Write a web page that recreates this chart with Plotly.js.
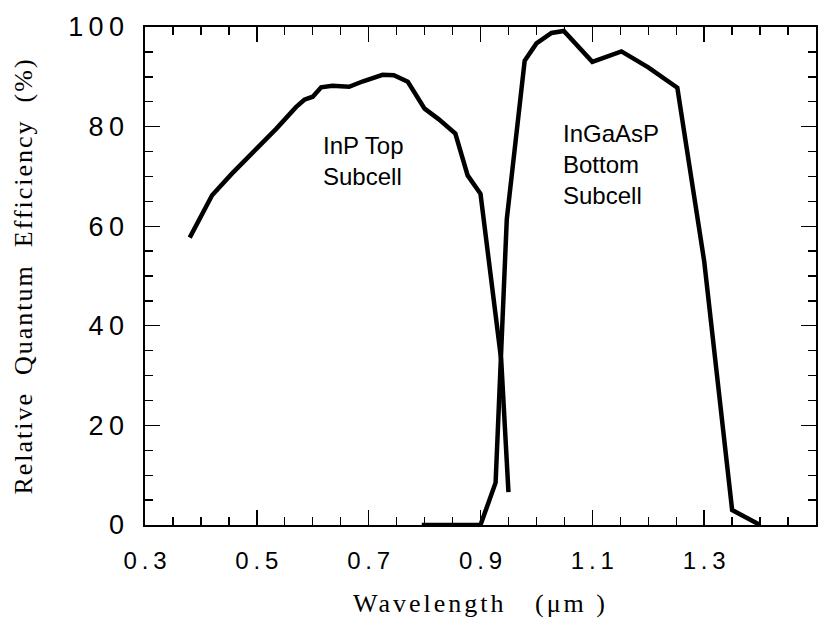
<!DOCTYPE html>
<html>
<head>
<meta charset="utf-8">
<script src="https://cdn.plot.ly/plotly-3.0.1.min.js"></script>
<style>
  html, body { margin: 0; padding: 0; background: #fff; }
  #chart { width: 833px; height: 633px; }
  .xtitle { letter-spacing: 3px; }
  .ytitle { letter-spacing: 2px; }
</style>
</head>
<body>
<div id="chart"></div>
<script>
// InP top subcell
const inpWavelength = [0.38, 0.42, 0.455, 0.505, 0.535, 0.57, 0.585, 0.60, 0.615, 0.635, 0.665, 0.69, 0.725, 0.745, 0.77, 0.80, 0.825, 0.855, 0.877, 0.90, 0.937, 0.95];
const inpQE = [57.7, 66.2, 70.5, 76.1, 79.6, 83.9, 85.4, 86.0, 87.9, 88.2, 88.0, 89.1, 90.4, 90.3, 89.0, 83.6, 81.5, 78.6, 70.2, 66.5, 33.2, 6.6];

// InGaAsP bottom subcell
const ingaasWavelength = [0.795, 0.90, 0.927, 0.947, 0.979, 1.0, 1.027, 1.049, 1.10, 1.152, 1.20, 1.252, 1.30, 1.35, 1.40];
const ingaasQE = [0, 0, 8.5, 61.4, 93.2, 96.7, 98.8, 99.2, 93.0, 95.1, 91.9, 87.8, 53.0, 3, 0];

// Tick labels (thin spaces between characters, as in the original)
const T = "\u2009";
const xTickVals = [0.3, 0.5, 0.7, 0.9, 1.1, 1.3, 1.5];
const xTickText = ["0" + T + "." + T + "3", "0" + T + "." + T + "5", "0" + T + "." + T + "7", "0" + T + "." + T + "9", "1" + T + "." + T + "1", "1" + T + "." + T + "3", "1" + T + "." + T + "5"];
const yTickVals = [0, 20, 40, 60, 80, 100];
const yTickText = ["0", "2" + T + "0", "4" + T + "0", "6" + T + "0", "8" + T + "0", "1" + T + "0" + T + "0"];

const lineStyle = { color: "#000", width: 4.5 };

const traces = [
  { x: inpWavelength, y: inpQE, type: "scatter", mode: "lines", line: lineStyle, hoverinfo: "skip" },
  { x: ingaasWavelength, y: ingaasQE, type: "scatter", mode: "lines", line: lineStyle, hoverinfo: "skip" }
];

const sans = "Liberation Sans, Arial, sans-serif";
const titleFont = { family: "Liberation Serif, Times New Roman, serif", size: 26, color: "#000" };
const NB = "\u00a0";

const layout = {
  width: 833,
  height: 633,
  margin: { l: 145, r: 17, t: 27, b: 108 },
  paper_bgcolor: "#fff",
  plot_bgcolor: "#fff",
  showlegend: false,
  xaxis: {
    range: [0.3, 1.5],
    tickmode: "array",
    tickvals: xTickVals,
    ticktext: xTickText,
    ticks: "inside",
    ticklen: 15,
    tickwidth: 1.4,
    tickcolor: "#000",
    ticklabelstandoff: 14,
    minor: { tickmode: "linear", tick0: 0.3, dtick: 0.05, ticks: "inside", ticklen: 8, tickwidth: 1.4, tickcolor: "#000", showgrid: false },
    showline: true,
    linecolor: "#000",
    linewidth: 1.6,
    mirror: "allticks",
    showgrid: false,
    zeroline: false,
    tickfont: { family: sans, size: 24, color: "#000" },
    title: { text: "Wavelength" + NB + NB + NB + "(μm" + NB + ")", font: titleFont, standoff: 20 }
  },
  yaxis: {
    range: [0, 100],
    tickmode: "array",
    tickvals: yTickVals,
    ticktext: yTickText,
    ticks: "inside",
    ticklen: 15,
    tickwidth: 1.4,
    tickcolor: "#000",
    ticklabelstandoff: 14,
    minor: { tickmode: "linear", tick0: 0, dtick: 5, ticks: "inside", ticklen: 8, tickwidth: 1.4, tickcolor: "#000", showgrid: false },
    showline: true,
    linecolor: "#000",
    linewidth: 1.6,
    mirror: "allticks",
    showgrid: false,
    zeroline: false,
    tickfont: { family: sans, size: 27, color: "#000" },
    title: { text: "Relative" + NB + NB + "Quantum" + NB + NB + "Efficiency" + NB + NB + "(%)", font: titleFont, standoff: 28 }
  },
  annotations: [
    {
      x: 0.615, y: 73.1, xref: "x", yref: "y",
      text: "InP Top<br>Subcell", showarrow: false,
      xanchor: "left", yanchor: "middle", align: "left",
      font: { family: sans, size: 24, color: "#000" }
    },
    {
      x: 1.044, y: 72.4, xref: "x", yref: "y",
      text: "InGaAsP<br>Bottom<br>Subcell", showarrow: false,
      xanchor: "left", yanchor: "middle", align: "left",
      font: { family: sans, size: 24, color: "#000" }
    }
  ]
};

Plotly.newPlot("chart", traces, layout, { staticPlot: true, displayModeBar: false });
</script>
</body>
</html>
